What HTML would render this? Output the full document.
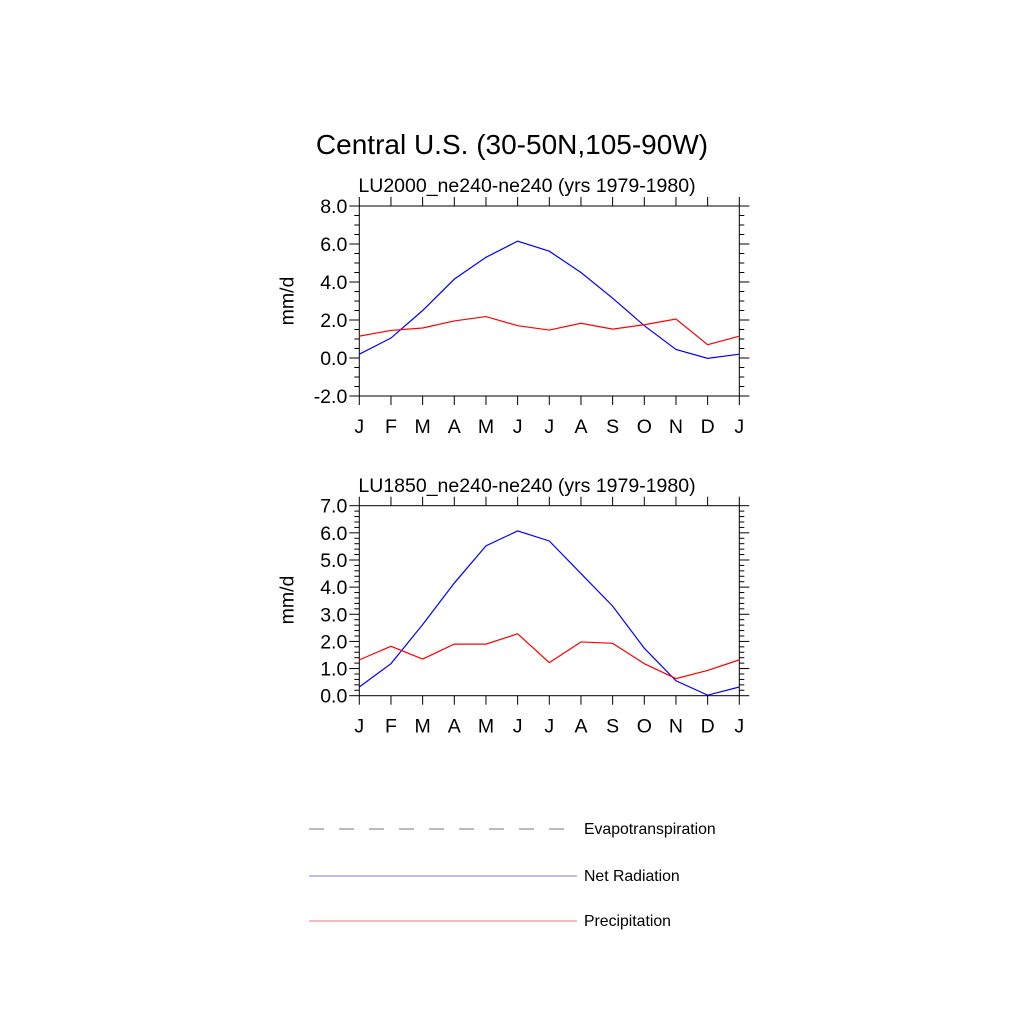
<!DOCTYPE html>
<html><head><meta charset="utf-8"><style>html,body{margin:0;padding:0;background:#fff}svg{display:block;font-family:"Liberation Sans",sans-serif}</style></head>
<body>
<svg id="chart" width="1024" height="1024" xmlns="http://www.w3.org/2000/svg">
<text x="512" y="154" font-size="28" text-anchor="middle">Central U.S. (30-50N,105-90W)</text>
<text x="527" y="192" font-size="19.5" text-anchor="middle">LU2000_ne240-ne240 (yrs 1979-1980)</text>
<text x="527" y="492" font-size="19.5" text-anchor="middle">LU1850_ne240-ne240 (yrs 1979-1980)</text>
<g id="p1"></g>
<g id="p2"></g>
<g>
<line x1="309" y1="829" x2="568" y2="829" stroke="#777" stroke-width="1" stroke-dasharray="15,15"/>
<text x="584" y="834" font-size="15.8">Evapotranspiration</text>
<line x1="309" y1="876" x2="577" y2="876" stroke="#7777ee" stroke-width="1"/>
<text x="584" y="881" font-size="15.8">Net Radiation</text>
<line x1="309" y1="921" x2="577" y2="921" stroke="#e77777" stroke-width="1"/>
<text x="584" y="926" font-size="15.8">Precipitation</text>
</g>
</svg>
<script>
const months = ["J","F","M","A","M","J","J","A","S","O","N","D","J"];
const netRad2000 = [0.2,1.05,2.5,4.15,5.3,6.15,5.62,4.5,3.15,1.7,0.45,-0.02,0.2];
const precip2000 = [1.15,1.45,1.58,1.95,2.18,1.7,1.47,1.83,1.52,1.75,2.05,0.7,1.15];
const netRad1850 = [0.32,1.18,2.62,4.15,5.52,6.07,5.7,4.5,3.3,1.75,0.55,0.02,0.32];
const precip1850 = [1.32,1.82,1.35,1.9,1.9,2.28,1.22,1.98,1.93,1.18,0.63,0.93,1.32];
const yTicks1 = [-2,0,2,4,6,8];
const yTicks2 = [0,1,2,3,4,5,6,7];
const NS="http://www.w3.org/2000/svg";
function mk(g,tag,attrs){const e=document.createElementNS(NS,tag);for(const k in attrs)e.setAttribute(k,attrs[k]);g.appendChild(e);return e;}
function panel(g,top,bottom,ymin,ymax,ticks,minorStep,blue,red,labelY){
  const L=359.3,R=739.3;
  const xs=i=>L+(R-L)*i/(months.length-1);
  const ys=v=>bottom-(v-ymin)/(ymax-ymin)*(bottom-top);
  const frame=mk(g,'rect',{x:L,y:top,width:R-L,height:bottom-top,fill:'none',stroke:'#000','stroke-width':1});
  
  
  for(let v=ymin;v<=ymax+1e-9;v+=minorStep){
    const major=ticks.some(t=>Math.abs(t-v)<1e-6);const len=major?10:5;const y=ys(v);
    const a=mk(g,'line',{x1:L-len,y1:y,x2:L,y2:y,stroke:'#000','stroke-width':1});
    
    
    const b=mk(g,'line',{x1:R,y1:y,x2:R+len,y2:y,stroke:'#000','stroke-width':1});
    
    
  }
  ticks.forEach(t=>{
    const tx=mk(g,'text',{x:L-12,y:ys(t)+7,'font-size':19.5,'text-anchor':'end'});tx.textContent=t.toFixed(1);
    
    
  });
  months.forEach((m,i)=>{
    const x=xs(i);
    const a=mk(g,'line',{x1:x,y1:bottom,x2:x,y2:bottom+9,stroke:'#000','stroke-width':1});
    
    
    const b=mk(g,'line',{x1:x,y1:top-9,x2:x,y2:top,stroke:'#000','stroke-width':1});
    
    
    const t=mk(g,'text',{x:x,y:bottom+37,'font-size':19.5,'text-anchor':'middle'});t.textContent=m;
    
    
  });
  const yt=mk(g,'text',{x:0,y:0,'font-size':19.5,'text-anchor':'middle',transform:`translate(${L-66},${labelY}) rotate(-90)`});yt.textContent='mm/d';
  
  
  const pb=mk(g,'polyline',{points:blue.map((v,i)=>xs(i)+','+ys(v)).join(' '),fill:'none',stroke:'#0000ff','stroke-width':1.2});
  
  
  const pr=mk(g,'polyline',{points:red.map((v,i)=>xs(i)+','+ys(v)).join(' '),fill:'none',stroke:'#ff0000','stroke-width':1.2});
  
  
}
panel(document.getElementById('p1'),206,396,-2,8,yTicks1,0.5,netRad2000,precip2000,301);
panel(document.getElementById('p2'),505.7,695.7,0,7,yTicks2,0.2,netRad1850,precip1850,600);
</script>
</body></html>
